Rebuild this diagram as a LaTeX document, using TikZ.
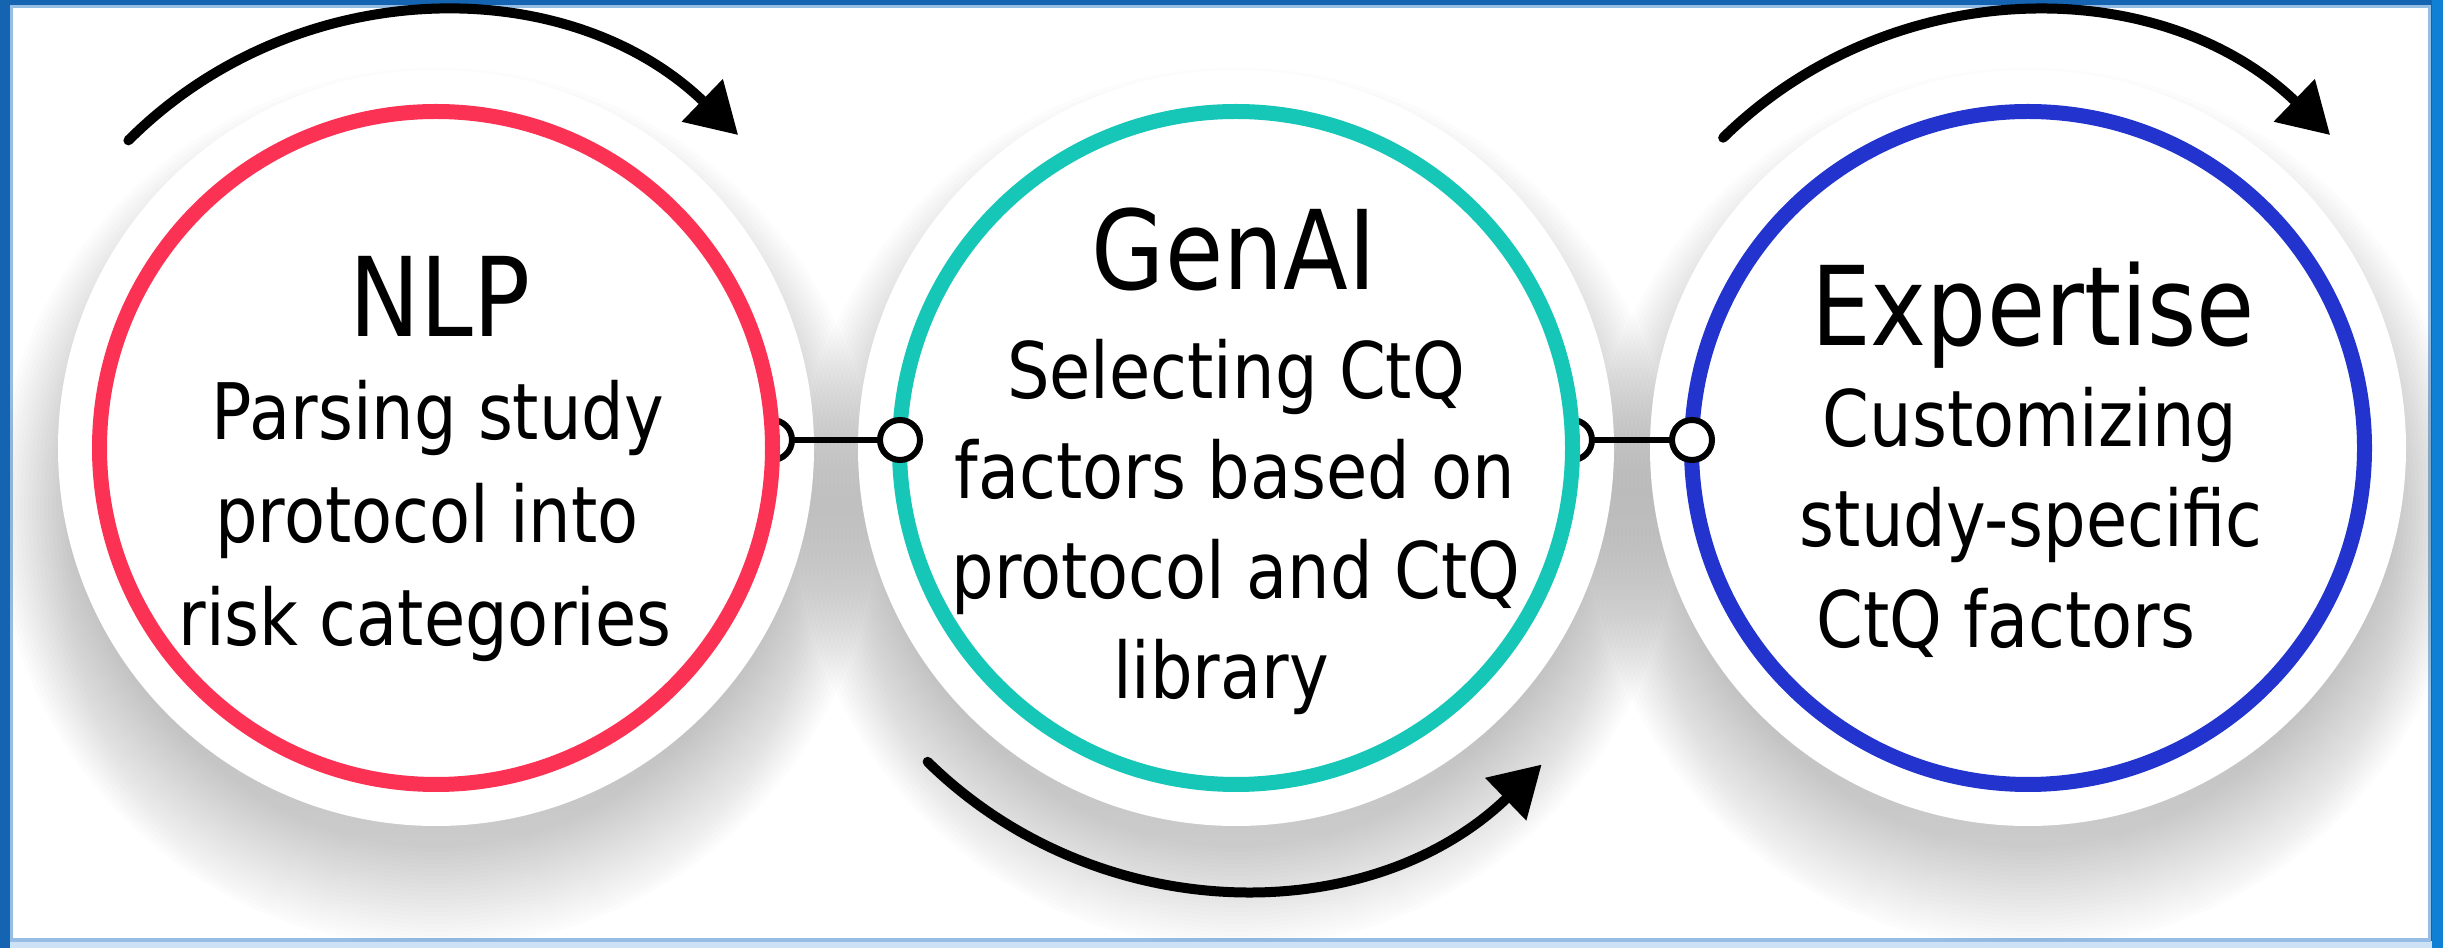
\documentclass[tikz,border=0pt]{standalone}
\usepackage{fontspec}
\setmainfont{DejaVu Sans}[FakeStretch=0.86]
\usetikzlibrary{arrows.meta}

\definecolor{frameblue}{RGB}{20,100,178}
\definecolor{frameright}{RGB}{16,128,212}
\definecolor{framepale}{RGB}{205,226,244}
\definecolor{frameedge}{RGB}{150,190,228}
\definecolor{nlpred}{RGB}{252,50,84}
\definecolor{genteal}{RGB}{22,198,182}
\definecolor{expblue}{RGB}{34,52,205}
\definecolor{shade}{RGB}{70,80,95}

\begin{document}
\begin{tikzpicture}[x=0.3pt, y=0.3pt,
  stage/.style={circle, draw=#1, fill=white, line width=4.5pt,
                minimum size=201.9pt, inner sep=0pt, outer sep=0pt},
  port/.style={circle, draw=black, fill=white, line width=1.8pt,
               minimum size=12pt, inner sep=0pt, outer sep=0pt},
  link/.style={draw=black, line width=1.8pt},
  title/.style={font=\fontsize{33}{40}\selectfont, inner sep=0pt, anchor=base},
  body/.style={font=\fontsize{23.4}{30}\selectfont, inner sep=0pt, anchor=base},
  cycle arrow/.style={draw=black, line width=3pt, line cap=round,
                      -{Triangle[length=15pt,width=17pt]}},
]
\useasboundingbox (0,0) rectangle (2443,948);

% frame
\fill[frameblue] (0,0) rectangle (2443,948);
\fill[frameright] (2432,0) rectangle (2443,948);
\fill[framepale] (10,0) rectangle (2432,7);
\fill[white] (10,7) rectangle (2431,943);
\draw[frameedge, line width=1pt] (11.5,8) rectangle (2429.5,941.5);

% soft shadows under the discs
\begin{scope}
  \clip (10,7) rectangle (2431,943);
  \foreach \cx in {436,1236,2028} {
    \foreach \k in {0,...,25} {
      \fill[shade, opacity=0.007] (\cx,440) circle[radius=340+4*\k];
    }
  }
  \foreach \cx in {436,1236,2028} {
    \fill[white] (\cx,500) circle[radius=378];
  }
\end{scope}

% ports that sit behind the stage rings
\node[port] (p1) at (772,508) {};
\node[port] (p3) at (1572,508) {};

% stages
\node[stage=nlpred]  (nlp) at (436,500) {};
\node[stage=genteal] (gen) at (1236,500) {};
\node[stage=expblue] (exp) at (2028,500) {};

% ports in front of the rings
\node[port] (p2) at (900,508) {};
\node[port] (p4) at (1692,508) {};
\draw[link] (p1.east) -- (p2.west);
\draw[link] (p3.east) -- (p4.west);

% NLP
\node[title] (t1) at (440,611) {NLP};
\node[body] (b1a) at (438,508) {Parsing study};
\node[body] (b1b) at (427,405) {protocol into};
\node[body] (b1c) at (425,302) {risk categories};

% GenAI
\node[title] (t2) at (1234,658) {GenAI};
\node[body] (b2a) at (1236,549) {Selecting CtQ};
\node[body] (b2b) at (1235,449) {factors based on};
\node[body] (b2c) at (1236,349) {protocol and CtQ};
\node[body] (b2d) at (1221,249) {library};

% Expertise
\node[title] (t3) at (2033,602) {Expertise};
\node[body] (b3a) at (2030,501) {Customizing};
\node[body] (b3b) at (2031,401) {study-specific};
\node[body] (b3c) at (2006,300) {CtQ factors};

% cycle arrows
\coordinate (a1s) at ([shift={(135:435)}]nlp.center);
\draw[cycle arrow] (a1s) arc[start angle=135, end angle=46, radius=435];
\coordinate (a2s) at ([shift={(225.5:440)}]gen.center);
\draw[cycle arrow] (a2s) arc[start angle=225.5, end angle=314, radius=440];
\coordinate (a3s) at ([shift={(134.5:435)}]exp.center);
\draw[cycle arrow] (a3s) arc[start angle=134.5, end angle=46, radius=435];
\end{tikzpicture}
\end{document}
